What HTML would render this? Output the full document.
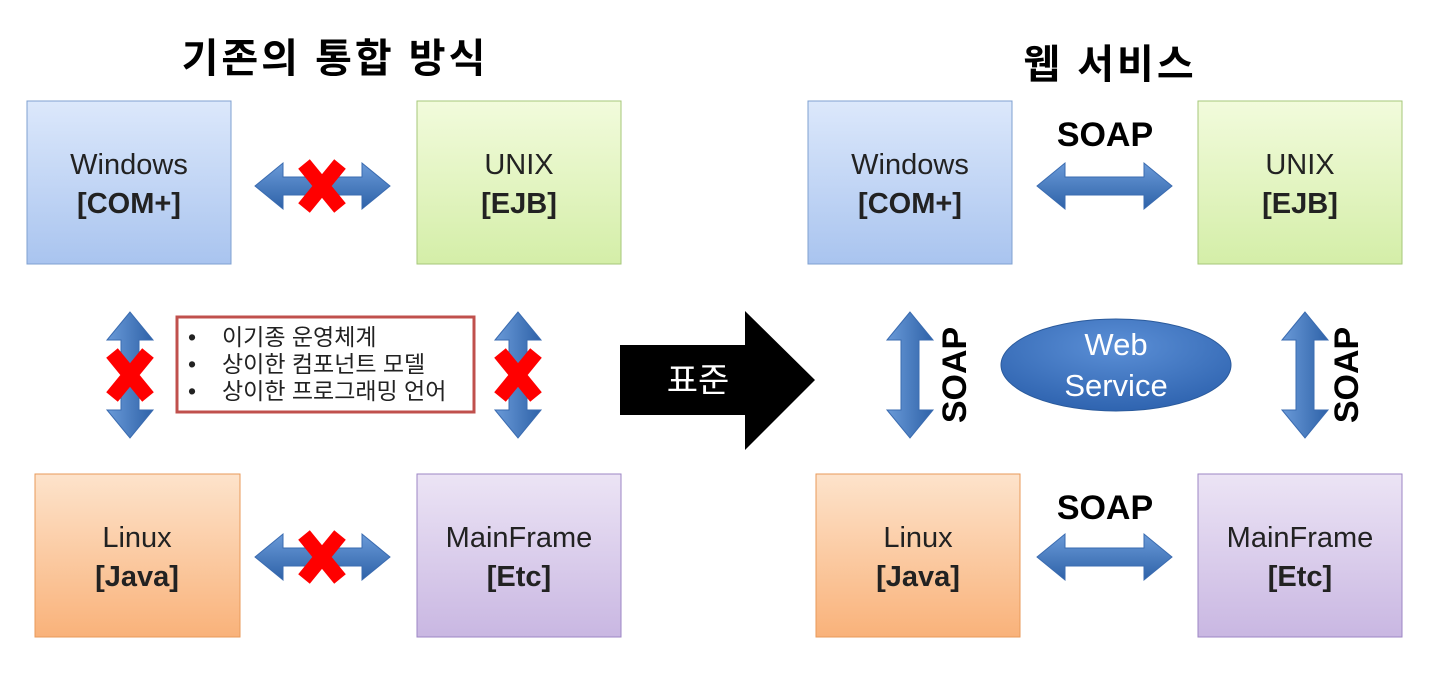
<!DOCTYPE html>
<html><head><meta charset="utf-8"><style>
body{margin:0;background:#fff;}
svg text{font-family:"Liberation Sans","Noto Sans CJK KR",sans-serif;}
</style></head><body>
<svg width="1440" height="682" xmlns="http://www.w3.org/2000/svg">
<defs>
<linearGradient id="gb" x1="0" y1="0" x2="0" y2="1"><stop offset="0" stop-color="#dce8fb"/><stop offset="1" stop-color="#a9c4ef"/></linearGradient>
<linearGradient id="gg" x1="0" y1="0" x2="0" y2="1"><stop offset="0" stop-color="#f2fbdc"/><stop offset="1" stop-color="#d4eea8"/></linearGradient>
<linearGradient id="go" x1="0" y1="0" x2="0" y2="1"><stop offset="0" stop-color="#fde3cb"/><stop offset="1" stop-color="#f9b27a"/></linearGradient>
<linearGradient id="gp" x1="0" y1="0" x2="0" y2="1"><stop offset="0" stop-color="#ece4f5"/><stop offset="1" stop-color="#c9b7e2"/></linearGradient>
<linearGradient id="ga" x1="0" y1="0" x2="0" y2="1"><stop offset="0" stop-color="#6a9ad8"/><stop offset="1" stop-color="#2e62a8"/></linearGradient>
<linearGradient id="gav" x1="0" y1="0" x2="1" y2="0"><stop offset="0" stop-color="#6a9ad8"/><stop offset="1" stop-color="#2e62a8"/></linearGradient>
<radialGradient id="ge" cx="0.5" cy="0.3" r="0.7"><stop offset="0" stop-color="#5b8fd6"/><stop offset="1" stop-color="#2f64b0"/></radialGradient>
<g id="ha"><polygon points="0,0 28,-23 28,-9 107,-9 107,-23 135,0 107,23 107,9 28,9 28,23" fill="url(#ga)" stroke="#3a6bb0" stroke-width="1"/></g>
<g id="va"><polygon points="0,0 -23,28 -9,28 -9,98 -23,98 0,126 23,98 9,98 9,28 23,28" fill="url(#gav)" stroke="#3a6bb0" stroke-width="1"/></g>
<g id="x"><path d="M-18,-22 L18,22 M18,-22 L-18,22" stroke="#f00" stroke-width="15"/></g>
</defs>
<text x="335" y="72" font-size="40" font-weight="bold" text-anchor="middle" letter-spacing="3">기존의 통합 방식</text>
<text x="1110" y="78" font-size="40" font-weight="bold" text-anchor="middle" letter-spacing="3">웹 서비스</text>

<g font-size="29" text-anchor="middle" fill="#222">
<rect x="27" y="101" width="204" height="163" fill="url(#gb)" stroke="#7fa0d0"/>
<text x="129" y="174">Windows</text><text x="129" y="213" font-weight="bold">[COM+]</text>
<rect x="417" y="101" width="204" height="163" fill="url(#gg)" stroke="#a6c77a"/>
<text x="519" y="174">UNIX</text><text x="519" y="213" font-weight="bold">[EJB]</text>
<rect x="35" y="474" width="205" height="163" fill="url(#go)" stroke="#e89a5a"/>
<text x="137" y="547">Linux</text><text x="137" y="586" font-weight="bold">[Java]</text>
<rect x="417" y="474" width="204" height="163" fill="url(#gp)" stroke="#9c86c4"/>
<text x="519" y="547">MainFrame</text><text x="519" y="586" font-weight="bold">[Etc]</text>

<rect x="808" y="101" width="204" height="163" fill="url(#gb)" stroke="#7fa0d0"/>
<text x="910" y="174">Windows</text><text x="910" y="213" font-weight="bold">[COM+]</text>
<rect x="1198" y="101" width="204" height="163" fill="url(#gg)" stroke="#a6c77a"/>
<text x="1300" y="174">UNIX</text><text x="1300" y="213" font-weight="bold">[EJB]</text>
<rect x="816" y="474" width="204" height="163" fill="url(#go)" stroke="#e89a5a"/>
<text x="918" y="547">Linux</text><text x="918" y="586" font-weight="bold">[Java]</text>
<rect x="1198" y="474" width="204" height="163" fill="url(#gp)" stroke="#9c86c4"/>
<text x="1300" y="547">MainFrame</text><text x="1300" y="586" font-weight="bold">[Etc]</text>
</g>

<use href="#ha" x="255" y="186"/><use href="#x" x="322" y="186"/>
<use href="#ha" x="255" y="557"/><use href="#x" x="322" y="557"/>
<use href="#va" x="130" y="312"/><use href="#x" x="130" y="375"/>
<use href="#va" x="518" y="312"/><use href="#x" x="518" y="375"/>

<rect x="177" y="317" width="297" height="95" fill="#fff" stroke="#c0504d" stroke-width="3"/>
<g font-size="23" fill="#222">
<text x="188" y="345">•</text><text x="222" y="345">이기종 운영체계</text>
<text x="188" y="372">•</text><text x="222" y="372">상이한 컴포넌트 모델</text>
<text x="188" y="399">•</text><text x="222" y="399">상이한 프로그래밍 언어</text>
</g>

<polygon points="620,345 745,345 745,311 815,380 745,450 745,415 620,415" fill="#000"/>
<text x="698" y="392" font-size="34" fill="#fff" text-anchor="middle">표준</text>

<use href="#ha" x="1037" y="186"/><use href="#ha" x="1037" y="557"/>
<text x="1105" y="146" font-size="34" font-weight="bold" text-anchor="middle">SOAP</text>
<text x="1105" y="519" font-size="34" font-weight="bold" text-anchor="middle">SOAP</text>
<use href="#va" x="910" y="312"/><use href="#va" x="1305" y="312"/>
<text transform="translate(966,375) rotate(-90)" font-size="34" font-weight="bold" text-anchor="middle">SOAP</text>
<text transform="translate(1358,375) rotate(-90)" font-size="34" font-weight="bold" text-anchor="middle">SOAP</text>

<ellipse cx="1116" cy="365" rx="115" ry="46" fill="url(#ge)" stroke="#2a5a9c"/>
<text x="1116" y="355" font-size="31" fill="#fff" text-anchor="middle">Web</text>
<text x="1116" y="396" font-size="31" fill="#fff" text-anchor="middle">Service</text>
</svg>
</body></html>
